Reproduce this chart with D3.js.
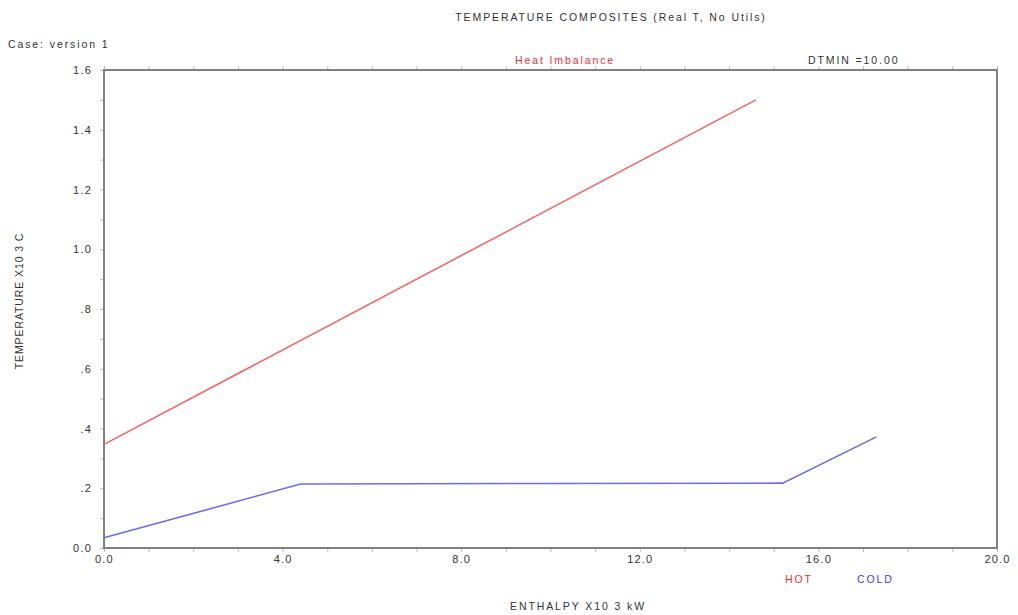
<!DOCTYPE html>
<html><head><meta charset="utf-8">
<script src="https://cdn.jsdelivr.net/npm/d3@7"></script>
<style>body{margin:0;background:#fff}svg{display:block}text{font-family:"Liberation Sans",Arial,sans-serif;fill:#333}</style>
</head><body><div id="chart"></div>
<script>
const hotH = [0.0, 14.6];
const hotT = [0.347, 1.5];
const coldH = [0.0, 4.4, 9.9, 15.2, 17.3];
const coldT = [0.034, 0.214, 0.216, 0.217, 0.372];
const xTicks = [0, 4, 8, 12, 16, 20];
const xTickLabels = ["0.0", "4.0", "8.0", "12.0", "16.0", "20.0"];
const yTicks = [0, 0.2, 0.4, 0.6, 0.8, 1.0, 1.2, 1.4, 1.6];
const yTickLabels = ["0.0", ".2", ".4", ".6", ".8", "1.0", "1.2", "1.4", "1.6"];

const W = 1018, H = 615;
const m = {l: 104, r: 21, t: 70, b: 67};
const svg = d3.select("#chart").append("svg").attr("width", W).attr("height", H);
const x = d3.scaleLinear().domain([0, 20]).range([m.l, W - m.r]);
const y = d3.scaleLinear().domain([0, 1.6]).range([H - m.b, m.t]);

const tickCol = "#bbb";
const FONT = '"Liberation Sans",Arial,sans-serif';
const xMinor = d3.range(0, 20.001, 1);
const yMinor = d3.range(0, 1.6001, 0.1);
const g = svg.append("g");
const bx = g.append("g").attr("transform", `translate(0,${y(0)})`)
  .call(d3.axisBottom(x).tickValues(xMinor).tickSize(4).tickFormat(""));
bx.select(".domain").remove();
bx.selectAll("line").attr("stroke", tickCol);
const bl = g.append("g").attr("transform", `translate(0,${y(0)})`)
  .call(d3.axisBottom(x).tickValues(xTicks).tickSize(0).tickPadding(7).tickFormat((d,i)=>xTickLabels[i]));
bl.select(".domain").remove();
bl.selectAll("text").attr("font-size", 11).style("font-family", FONT).style("letter-spacing", "1.2px").attr("fill", "#444");
const tx = g.append("g").attr("transform", `translate(0,${y(1.6)})`)
  .call(d3.axisTop(x).tickValues(xMinor).tickSize(4).tickFormat(""));
tx.select(".domain").remove();
tx.selectAll("line").attr("stroke", tickCol);
const ly = g.append("g").attr("transform", `translate(${x(0)},0)`)
  .call(d3.axisLeft(y).tickValues(yMinor).tickSize(4).tickFormat(""));
ly.select(".domain").remove();
ly.selectAll("line").attr("stroke", tickCol);
const ll = g.append("g").attr("transform", `translate(${x(0)},0)`)
  .call(d3.axisLeft(y).tickValues(yTicks).tickSize(0).tickPadding(12).tickFormat((d,i)=>yTickLabels[i]));
ll.select(".domain").remove();
ll.selectAll("text").attr("font-size", 11).style("font-family", FONT).style("letter-spacing", "1.2px").attr("fill", "#444");

svg.append("rect").attr("x", x(0)).attr("y", y(1.6)).attr("width", x(20) - x(0)).attr("height", y(0) - y(1.6))
  .attr("fill", "none").attr("stroke", "#808080").attr("stroke-width", 2);

const line = d3.line().x(d => x(d[0])).y(d => y(d[1]));
svg.append("path").datum(hotH.map((h,i)=>[h, hotT[i]])).attr("d", line)
  .attr("fill", "none").attr("stroke", "#f06868").attr("stroke-width", 1.6);
svg.append("path").datum(coldH.map((h,i)=>[h, coldT[i]])).attr("d", line)
  .attr("fill", "none").attr("stroke", "#6c6cf0").attr("stroke-width", 1.6);

function txt(xp, yp, s, opts = {}) {
  const t = svg.append("text").attr("x", xp).attr("y", yp).attr("font-size", 10.5)
    .style("letter-spacing", "1.9px").text(s);
  if (opts.anchor) t.attr("text-anchor", opts.anchor);
  if (opts.fill) t.style("fill", opts.fill);
  return t;
}
txt(611, 21, "TEMPERATURE COMPOSITES (Real T, No Utils)", {anchor: "middle"});
txt(8, 48, "Case: version 1");
txt(565, 64, "Heat Imbalance", {anchor: "middle", fill: "#f03030"});
txt(808, 64, "DTMIN =10.00");
svg.append("text").attr("transform", `translate(23,301) rotate(-90)`).attr("text-anchor", "middle")
  .attr("font-size", 10.5).style("letter-spacing", "0.9px").text("TEMPERATURE X10 3 C");
txt(578, 610, "ENTHALPY X10 3 kW", {anchor: "middle"});
txt(785, 583, "HOT", {fill: "#f03030"});
txt(857, 583, "COLD", {fill: "#4040e0"});
</script></body></html>
